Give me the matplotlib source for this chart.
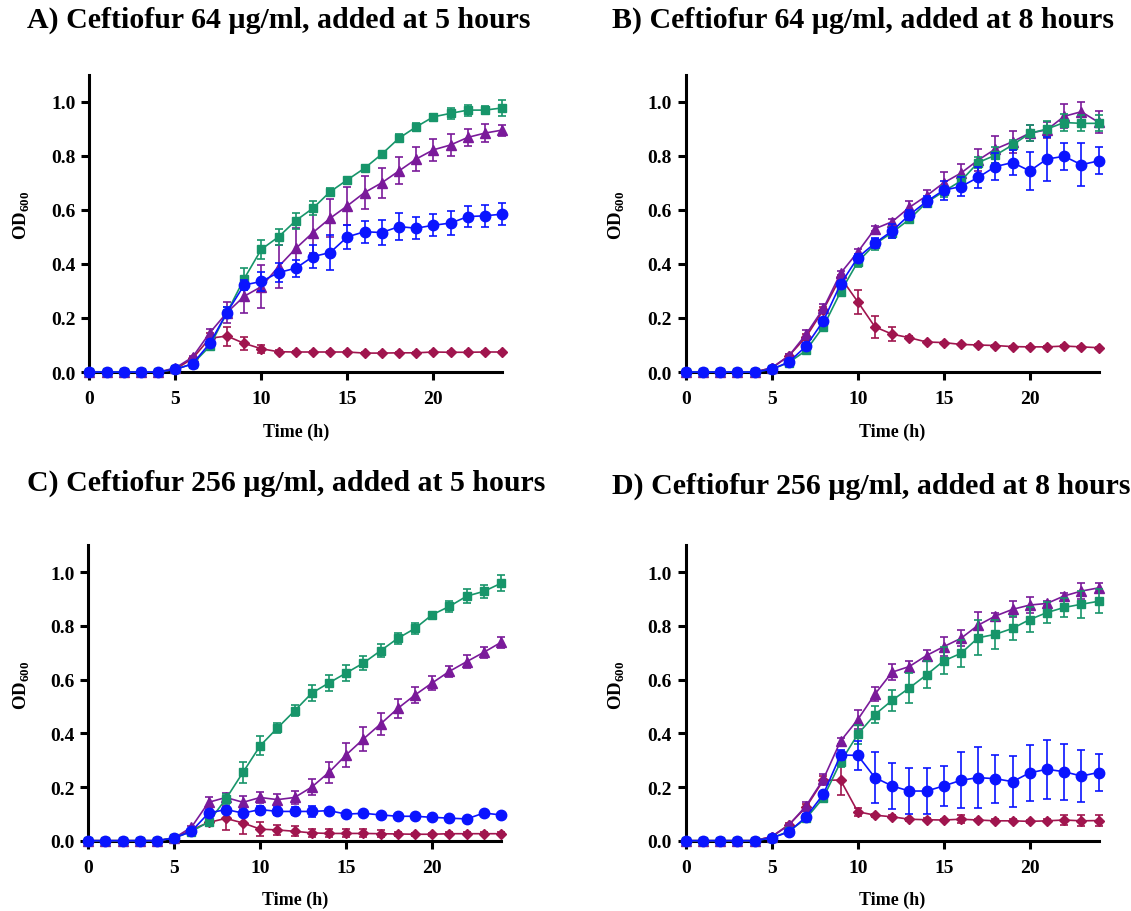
import matplotlib
matplotlib.use("Agg")
import matplotlib.pyplot as plt
import numpy as np

plt.rcParams['font.family'] = ['Liberation Serif', 'DejaVu Serif']
plt.rcParams['font.weight'] = 'bold'
plt.rcParams['mathtext.fontset'] = 'custom'
plt.rcParams['mathtext.rm'] = 'Liberation Serif:bold'
plt.rcParams['mathtext.bf'] = 'Liberation Serif:bold'

hours = list(range(25))
xticks = [0, 5, 10, 15, 20]
yticks = [0.0, 0.2, 0.4, 0.6, 0.8, 1.0]

titles = [
    "A) Ceftiofur 64 \u00b5g/ml, added at 5 hours",
    "B) Ceftiofur 64 \u00b5g/ml, added at 8 hours",
    "C) Ceftiofur 256 \u00b5g/ml, added at 5 hours",
    "D) Ceftiofur 256 \u00b5g/ml, added at 8 hours",
]

# panel A
a_green = [0, 0, 0, 0, 0, 0.01, 0.03, 0.095, 0.22, 0.345, 0.454, 0.50, 0.56, 0.606, 0.667, 0.711, 0.754, 0.806, 0.865, 0.907, 0.944, 0.957, 0.969, 0.969, 0.977]
a_green_err = [0, 0, 0, 0, 0, 0, 0.005, 0.01, 0.02, 0.04, 0.035, 0.03, 0.03, 0.025, 0.015, 0.008, 0.008, 0.008, 0.015, 0.015, 0.012, 0.02, 0.02, 0.015, 0.03]
a_purple = [0, 0, 0, 0, 0, 0.015, 0.055, 0.145, 0.22, 0.28, 0.316, 0.39, 0.457, 0.516, 0.569, 0.615, 0.664, 0.70, 0.744, 0.788, 0.822, 0.84, 0.868, 0.884, 0.895]
a_purple_err = [0, 0, 0, 0, 0, 0, 0.005, 0.015, 0.04, 0.06, 0.08, 0.08, 0.075, 0.077, 0.07, 0.07, 0.06, 0.055, 0.05, 0.046, 0.04, 0.04, 0.03, 0.034, 0.02]
a_blue = [0, 0, 0, 0, 0, 0.01, 0.03, 0.106, 0.22, 0.322, 0.335, 0.368, 0.384, 0.427, 0.442, 0.50, 0.519, 0.516, 0.538, 0.532, 0.543, 0.551, 0.575, 0.578, 0.584]
a_blue_err = [0, 0, 0, 0, 0, 0, 0.005, 0.01, 0.02, 0.02, 0.035, 0.035, 0.032, 0.043, 0.065, 0.044, 0.04, 0.045, 0.05, 0.04, 0.04, 0.043, 0.04, 0.04, 0.04]
a_red = [0, 0, 0, 0, 0, 0.01, 0.05, 0.125, 0.133, 0.106, 0.086, 0.075, 0.074, 0.074, 0.074, 0.074, 0.07, 0.07, 0.071, 0.071, 0.074, 0.073, 0.073, 0.074, 0.074]
a_red_err = [0, 0, 0, 0, 0, 0, 0.005, 0.02, 0.035, 0.025, 0.015, 0.005, 0.003, 0.003, 0.003, 0.003, 0.003, 0.003, 0.003, 0.003, 0.003, 0.003, 0.003, 0.003, 0.003]

# panel B
b_green = [0, 0, 0, 0, 0, 0.01, 0.035, 0.08, 0.168, 0.296, 0.407, 0.473, 0.516, 0.565, 0.627, 0.668, 0.707, 0.775, 0.802, 0.84, 0.883, 0.899, 0.923, 0.92, 0.92]
b_green_err = [0, 0, 0, 0, 0, 0, 0.005, 0.01, 0.01, 0.01, 0.02, 0.02, 0.02, 0.015, 0.015, 0.02, 0.02, 0.02, 0.03, 0.02, 0.03, 0.03, 0.03, 0.03, 0.03]
b_purple = [0, 0, 0, 0, 0, 0.015, 0.06, 0.14, 0.235, 0.365, 0.444, 0.53, 0.556, 0.609, 0.652, 0.70, 0.736, 0.784, 0.825, 0.852, 0.884, 0.896, 0.946, 0.963, 0.924]
b_purple_err = [0, 0, 0, 0, 0, 0, 0.005, 0.015, 0.015, 0.01, 0.01, 0.01, 0.01, 0.025, 0.02, 0.04, 0.035, 0.04, 0.05, 0.04, 0.03, 0.03, 0.045, 0.035, 0.04]
b_blue = [0, 0, 0, 0, 0, 0.01, 0.037, 0.096, 0.189, 0.325, 0.423, 0.477, 0.522, 0.581, 0.631, 0.673, 0.686, 0.72, 0.76, 0.775, 0.744, 0.788, 0.798, 0.767, 0.781]
b_blue_err = [0, 0, 0, 0, 0, 0, 0.005, 0.01, 0.01, 0.01, 0.015, 0.02, 0.025, 0.02, 0.02, 0.035, 0.035, 0.04, 0.05, 0.045, 0.07, 0.08, 0.05, 0.08, 0.05]
b_red = [0, 0, 0, 0, 0, 0.015, 0.06, 0.13, 0.23, 0.35, 0.26, 0.167, 0.14, 0.127, 0.111, 0.109, 0.102, 0.10, 0.098, 0.094, 0.093, 0.093, 0.096, 0.093, 0.09]
b_red_err = [0, 0, 0, 0, 0, 0, 0.005, 0.01, 0.01, 0.01, 0.045, 0.04, 0.025, 0.005, 0.005, 0.003, 0.003, 0.003, 0.003, 0.003, 0.003, 0.003, 0.003, 0.003, 0.003]

# panel C
c_green = [0, 0, 0, 0, 0, 0.01, 0.034, 0.07, 0.155, 0.255, 0.354, 0.42, 0.484, 0.55, 0.588, 0.625, 0.662, 0.708, 0.754, 0.791, 0.842, 0.873, 0.911, 0.929, 0.959]
c_green_err = [0, 0, 0, 0, 0, 0, 0.005, 0.01, 0.02, 0.04, 0.035, 0.02, 0.02, 0.03, 0.03, 0.03, 0.025, 0.025, 0.02, 0.02, 0.01, 0.02, 0.025, 0.025, 0.03]
c_purple = [0, 0, 0, 0, 0, 0.01, 0.05, 0.143, 0.161, 0.143, 0.161, 0.153, 0.161, 0.20, 0.255, 0.32, 0.379, 0.435, 0.493, 0.543, 0.588, 0.631, 0.667, 0.702, 0.739]
c_purple_err = [0, 0, 0, 0, 0, 0, 0.005, 0.02, 0.015, 0.025, 0.02, 0.02, 0.025, 0.03, 0.04, 0.045, 0.045, 0.04, 0.035, 0.03, 0.025, 0.02, 0.025, 0.02, 0.02]
c_blue = [0, 0, 0, 0, 0, 0.01, 0.035, 0.103, 0.116, 0.103, 0.116, 0.109, 0.109, 0.109, 0.112, 0.099, 0.102, 0.096, 0.091, 0.091, 0.087, 0.084, 0.081, 0.103, 0.096]
c_blue_err = [0, 0, 0, 0, 0, 0, 0.005, 0.01, 0.005, 0.01, 0.015, 0.015, 0.015, 0.02, 0.005, 0.005, 0.005, 0.005, 0.005, 0.005, 0.005, 0.005, 0.005, 0.005, 0.005]
c_red = [0, 0, 0, 0, 0, 0.01, 0.04, 0.068, 0.083, 0.066, 0.043, 0.04, 0.035, 0.029, 0.027, 0.027, 0.027, 0.026, 0.025, 0.024, 0.024, 0.026, 0.026, 0.026, 0.026]
c_red_err = [0, 0, 0, 0, 0, 0, 0.005, 0.015, 0.045, 0.04, 0.025, 0.02, 0.018, 0.015, 0.015, 0.015, 0.015, 0.012, 0.008, 0.005, 0.005, 0.005, 0.005, 0.005, 0.005]

# panel D
d_green = [0, 0, 0, 0, 0, 0.01, 0.035, 0.083, 0.16, 0.293, 0.396, 0.47, 0.523, 0.569, 0.618, 0.67, 0.698, 0.756, 0.769, 0.791, 0.824, 0.85, 0.869, 0.881, 0.892]
d_green_err = [0, 0, 0, 0, 0, 0, 0.005, 0.01, 0.01, 0.02, 0.035, 0.03, 0.04, 0.055, 0.05, 0.05, 0.05, 0.065, 0.055, 0.045, 0.045, 0.04, 0.035, 0.05, 0.045]
d_purple = [0, 0, 0, 0, 0, 0.015, 0.058, 0.13, 0.229, 0.371, 0.451, 0.546, 0.628, 0.649, 0.69, 0.723, 0.754, 0.803, 0.837, 0.862, 0.878, 0.884, 0.912, 0.93, 0.942]
d_purple_err = [0, 0, 0, 0, 0, 0, 0.005, 0.015, 0.02, 0.01, 0.035, 0.025, 0.03, 0.02, 0.02, 0.035, 0.03, 0.05, 0.01, 0.03, 0.03, 0.01, 0.01, 0.03, 0.02]
d_blue = [0, 0, 0, 0, 0, 0.01, 0.033, 0.089, 0.173, 0.319, 0.318, 0.235, 0.204, 0.185, 0.185, 0.204, 0.225, 0.235, 0.231, 0.22, 0.253, 0.266, 0.257, 0.241, 0.254]
d_blue_err = [0, 0, 0, 0, 0, 0, 0.005, 0.01, 0.01, 0.02, 0.055, 0.095, 0.085, 0.085, 0.085, 0.075, 0.105, 0.115, 0.09, 0.095, 0.105, 0.11, 0.105, 0.097, 0.07]
d_red = [0, 0, 0, 0, 0, 0.015, 0.06, 0.125, 0.225, 0.226, 0.108, 0.095, 0.089, 0.08, 0.078, 0.077, 0.08, 0.077, 0.074, 0.074, 0.072, 0.074, 0.077, 0.074, 0.075]
d_red_err = [0, 0, 0, 0, 0, 0, 0.005, 0.01, 0.015, 0.055, 0.015, 0.005, 0.005, 0.005, 0.005, 0.005, 0.015, 0.005, 0.005, 0.005, 0.005, 0.005, 0.02, 0.02, 0.02]

c_green_col = '#17956a'
c_purple_col = '#7a1a9a'
c_blue_col = '#0a14ff'
c_red_col = '#a0154e'

panels = [
    (a_red, a_red_err, a_purple, a_purple_err, a_green, a_green_err, a_blue, a_blue_err),
    (b_red, b_red_err, b_purple, b_purple_err, b_green, b_green_err, b_blue, b_blue_err),
    (c_red, c_red_err, c_purple, c_purple_err, c_green, c_green_err, c_blue, c_blue_err),
    (d_red, d_red_err, d_purple, d_purple_err, d_green, d_green_err, d_blue, d_blue_err),
]

# axes rectangles in figure fractions [left, bottom, width, height]
rects = [
    [0.079, 0.591, 0.365, 0.326],
    [0.6063, 0.591, 0.365, 0.326],
    [0.078, 0.0771, 0.365, 0.3237],
    [0.6063, 0.0771, 0.365, 0.3237],
]
title_pos = [(27, 20), (612, 20), (27, 483), (612, 486)]
ylab_x = [22, 617, 22, 617]

W, H = 1131, 912
fig = plt.figure(figsize=(W / 100, H / 100), dpi=100)

styles = [
    (c_red_col, 'D', 5.0),
    (c_purple_col, '^', 7.0),
    (c_green_col, 's', 5.5),
    (c_blue_col, 'o', 7.5),
]

for i, (rect, data) in enumerate(zip(rects, panels)):
    ax = fig.add_axes(rect)
    for k, (col, mk, ms) in enumerate(styles):
        y = data[2 * k]
        err = data[2 * k + 1]
        ax.errorbar(hours, y, yerr=err, color=col, marker=mk, markersize=ms,
                    linewidth=1.2, elinewidth=1.2, capsize=3.2, capthick=1.2,
                    clip_on=False, zorder=3 + k)
    ax.set_xlim(0, 24)
    ax.set_ylim(0, 1.1)
    ax.set_xticks(xticks)
    ax.set_yticks(yticks)
    ax.set_yticklabels(["%.1f" % v for v in yticks])
    ax.spines['top'].set_visible(False)
    ax.spines['right'].set_visible(False)
    for s in ['left', 'bottom']:
        ax.spines[s].set_linewidth(2.2)
    ax.tick_params(width=2.2, length=6, labelsize=14)
    ax.tick_params(axis='x', pad=7)
    ax.tick_params(axis='y', pad=4)
    for lab in ax.get_xticklabels() + ax.get_yticklabels():
        lab.set_fontweight('bold')
    ax.set_xlabel("Time (h)", fontsize=13, fontweight='bold', labelpad=11)
    bb = ax.get_position()
    fig.text(ylab_x[i] / W, bb.y0 + bb.height * 0.53, r'OD$_{\mathbf{600}}$', rotation=90,
             fontsize=13.5, fontweight='bold', ha='center', va='center')
    tx, ty = title_pos[i]
    fig.text(tx / W, 1 - ty / H, titles[i], fontsize=21.5, fontweight='bold',
             ha='left', va='center')

fig.savefig("out.png", dpi=100)
